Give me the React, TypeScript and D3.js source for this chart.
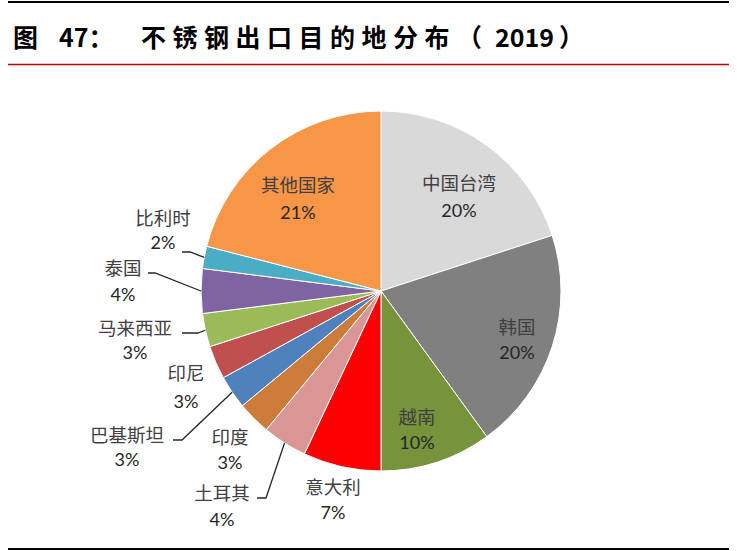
import { useEffect, useRef } from "react";
import * as d3 from "d3";

// data (share of 2019 stainless steel exports, %)
const countries = ["中国台湾", "韩国", "越南", "意大利", "土耳其", "印度", "巴基斯坦", "印尼", "马来西亚", "泰国", "比利时", "其他国家"];
const shares = [20, 20, 10, 7, 4, 3, 3, 3, 3, 4, 2, 21];
const colors = ["#D9D9D9", "#808080", "#77933C", "#FF0000", "#D99694", "#CC7B38", "#4F81BD", "#C0504D", "#9BBB59", "#8064A2", "#4BACC6", "#F79646"];

// label placement: [name x, name y, pct y], leader line: [elbow x, elbow y, end x]
const labelPos: Record<string, number[]> = {
  "中国台湾": [459, 190, 217],
  "韩国": [517, 334, 359],
  "越南": [417, 424, 449],
  "意大利": [333, 494, 519],
  "土耳其": [222, 500, 526],
  "印度": [230, 444, 469],
  "巴基斯坦": [127, 442, 466],
  "印尼": [186, 380, 408],
  "马来西亚": [135, 335, 359],
  "泰国": [123, 275, 301],
  "比利时": [163, 225, 249],
  "其他国家": [298, 192, 219],
};
const leaders: Record<string, number[]> = {
  "土耳其": [266, 498, 257],
  "巴基斯坦": [182, 440, 173],
  "马来西亚": [198, 333, 182],
  "泰国": [155, 273, 148],
  "比利时": [190, 252, 182],
};

type Row = { name: string; value: number; color: string };

export default function App() {
  const svgRef = useRef<SVGSVGElement>(null);

  useEffect(() => {
    if (!svgRef.current) return;
    const width = 737;
    const height = 551;
    const cx = 381, cy = 291, r = 180;

    const svg = d3.select(svgRef.current);
    svg.selectAll("*").remove();
    svg.attr("width", width).attr("height", height);

    svg.append("rect").attr("width", width).attr("height", height).attr("fill", "#fff");

    // frame lines
    svg.append("line").attr("x1", 8).attr("x2", 729).attr("y1", 2).attr("y2", 2)
      .attr("stroke", "#000").attr("stroke-width", 2);
    svg.append("line").attr("x1", 8).attr("x2", 729).attr("y1", 64.5).attr("y2", 64.5)
      .attr("stroke", "#C00000").attr("stroke-width", 1.5);
    svg.append("line").attr("x1", 8).attr("x2", 729).attr("y1", 549).attr("y2", 549)
      .attr("stroke", "#000").attr("stroke-width", 2);

    // title
    const title = svg.append("g")
      .attr("font-family", "'Noto Sans CJK SC', sans-serif")
      .attr("font-weight", 700)
      .attr("font-size", 25)
      .attr("fill", "#000");
    title.append("text").attr("x", 13).attr("y", 47).text("图");
    title.append("text").attr("x", 59).attr("y", 47).text("47：");
    title.append("text").attr("x", 141).attr("y", 47).attr("letter-spacing", 6.5)
      .text("不锈钢出口目的地分布");
    title.append("text").attr("x", 457).attr("y", 47).text("（");
    title.append("text").attr("x", 495).attr("y", 47).text("2019");
    title.append("text").attr("x", 559).attr("y", 47).text("）");

    const rows: Row[] = countries.map((name, i) => ({ name, value: shares[i], color: colors[i] }));

    const pie = d3.pie<Row>().sort(null).value(d => d.value);
    const arc = d3.arc<d3.PieArcDatum<Row>>().innerRadius(0).outerRadius(r);
    const arcs = pie(rows);

    const g = svg.append("g").attr("transform", `translate(${cx},${cy})`);
    g.selectAll("path.slice")
      .data(arcs)
      .enter()
      .append("path")
      .attr("class", "slice")
      .attr("d", arc)
      .attr("fill", d => d.data.color)
      .attr("stroke", "#fff")
      .attr("stroke-width", 1);

    // leader lines
    arcs.filter(d => leaders[d.data.name]).forEach(d => {
      const mid = (d.startAngle + d.endAngle) / 2;
      const sx = cx + r * Math.sin(mid);
      const sy = cy - r * Math.cos(mid);
      const [ex, ey, tx] = leaders[d.data.name];
      svg.append("polyline")
        .attr("points", `${sx},${sy} ${ex},${ey} ${tx},${ey}`)
        .attr("fill", "none")
        .attr("stroke", "#262626")
        .attr("stroke-width", 1.3);
    });

    // labels
    const fmt = d3.format(".0%");
    arcs.forEach(d => {
      const [lx, ly, py] = labelPos[d.data.name];
      svg.append("text")
        .attr("x", lx).attr("y", ly)
        .attr("text-anchor", "middle")
        .attr("font-family", "'Noto Sans CJK SC', sans-serif")
        .attr("font-size", 18.5)
        .attr("fill", "#404040")
        .text(d.data.name);
      svg.append("text")
        .attr("x", lx).attr("y", py)
        .attr("text-anchor", "middle")
        .attr("font-family", "Lato, 'Open Sans', sans-serif")
        .attr("font-size", 18)
        .attr("fill", "#262626")
        .text(fmt(d.data.value / 100));
    });
  }, []);

  return (
    <div style={{ position: "absolute", left: 0, top: 0 }}>
      <svg ref={svgRef}></svg>
    </div>
  );
}
